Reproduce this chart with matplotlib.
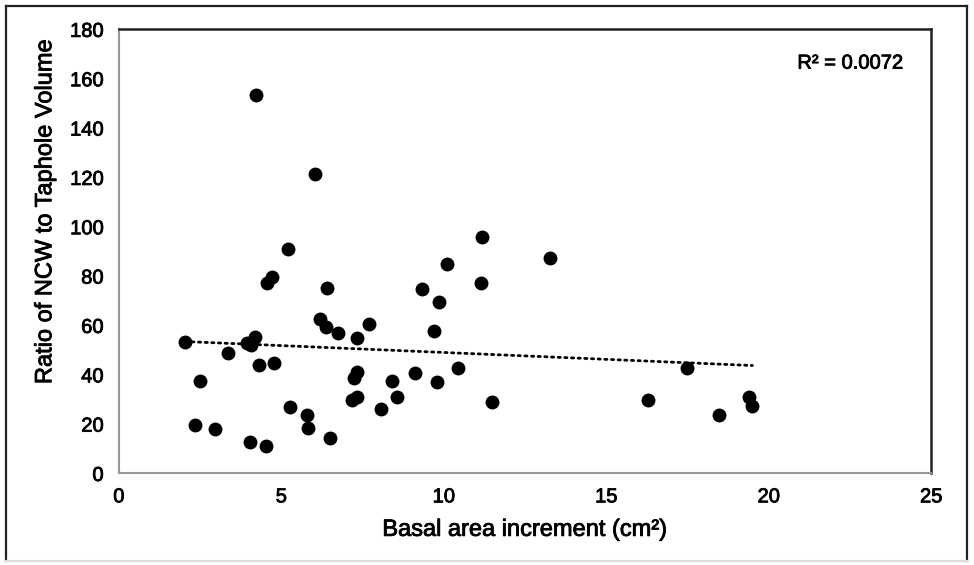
import matplotlib
matplotlib.use('Agg')
import matplotlib.pyplot as plt
from matplotlib.lines import Line2D
import matplotlib.patheffects as pe
import numpy as np

plt.rcParams['font.family'] = ['Liberation Sans', 'DejaVu Sans']

# basal area increment (cm2) vs ratio of NCW to taphole volume
bai = [4.22, 6.03, 5.20, 4.70, 4.55, 6.40, 6.18, 6.39, 6.76, 7.32,
       7.69, 2.04, 4.19, 3.93, 4.08, 3.35, 4.31, 4.79, 2.49, 7.32,
       7.25, 8.40, 8.55, 7.32, 7.19, 8.06, 5.27, 5.79, 5.83, 2.34,
       2.95, 4.05, 4.52, 6.49, 11.18, 10.11, 13.26, 9.33, 11.15, 9.85,
       9.70, 10.43, 9.11, 9.80, 11.48, 16.29, 17.50, 18.46, 19.38, 19.50]
ratio = [153.3, 121.2, 91.0, 79.6, 77.4, 75.0, 62.8, 59.4, 57.0, 55.0,
         60.4, 53.3, 55.4, 52.9, 52.0, 48.8, 43.9, 44.6, 37.4, 41.2,
         38.5, 37.5, 31.1, 31.1, 29.7, 26.1, 27.0, 23.9, 18.6, 19.7,
         18.1, 12.8, 11.3, 14.3, 95.9, 85.1, 87.4, 74.6, 77.0, 69.3,
         57.7, 42.7, 40.8, 36.9, 29.0, 29.7, 42.8, 23.9, 30.8, 27.3]

x_ticks = [0, 5, 10, 15, 20, 25]
y_ticks = [0, 20, 40, 60, 80, 100, 120, 140, 160, 180]
r2_text = 'R² = 0.0072'

x = np.array(bai)
y = np.array(ratio)
slope, intercept = np.polyfit(x, y, 1)
xf = np.array([x.min(), x.max()])

# the scanned original has heavy text, thicken glyphs a little
heavy = [pe.withStroke(linewidth=0.6, foreground='black')]

fig = plt.figure(figsize=(9.74, 5.65), dpi=100)
ax = fig.add_axes([0.122, 0.162, 0.834, 0.786])

ax.scatter(x, y, s=100, color='black', zorder=3, linewidths=0)
ax.plot(xf, slope * xf + intercept, color='black', lw=2.0,
        linestyle=(0, (0.8, 1.6)), dash_capstyle='round', zorder=2)

ax.set_xlim(0, 25)
ax.set_ylim(0, 180)
ax.set_xticks(x_ticks)
ax.set_yticks(y_ticks)
ax.tick_params(length=0, labelsize=14.5, colors='black')
ax.tick_params(axis='x', pad=10)
ax.tick_params(axis='y', pad=11)
for lbl in ax.get_xticklabels() + ax.get_yticklabels():
    lbl.set_path_effects(heavy)

ax.spines['top'].set_color('#222222')
ax.spines['right'].set_color('#222222')
ax.spines['top'].set_linewidth(1.8)
ax.spines['right'].set_linewidth(1.8)
ax.spines['left'].set_color('#999999')
ax.spines['bottom'].set_color('#999999')
ax.spines['left'].set_linewidth(1.5)
ax.spines['bottom'].set_linewidth(1.5)

xl = ax.set_xlabel('Basal area increment (cm²)', fontsize=17, labelpad=9, color='black')
yl = ax.set_ylabel('Ratio of NCW to Taphole Volume', fontsize=17, color='black')
ax.yaxis.set_label_coords(-0.077, 0.59)
xl.set_path_effects(heavy)
yl.set_path_effects(heavy)

ax.text(0.965, 0.924, r2_text, transform=ax.transAxes, ha='right', va='center',
        fontsize=14.5, color='black', path_effects=heavy)

# outer frame around the whole picture (bottom edge is a faint grey strip)
L, R, T, B = 6 / 974, 967 / 974, 1 - 6 / 565, 1 - 561 / 565
for xs, ys, c in [([L, R], [T, T], '#222222'),
                  ([L, L], [T, B], '#222222'),
                  ([R, R], [T, B], '#222222'),
                  ([L, R], [B, B], '#dddddd')]:
    fig.add_artist(Line2D(xs, ys, transform=fig.transFigure, color=c, lw=1.6))

fig.savefig('out.png', dpi=100)
